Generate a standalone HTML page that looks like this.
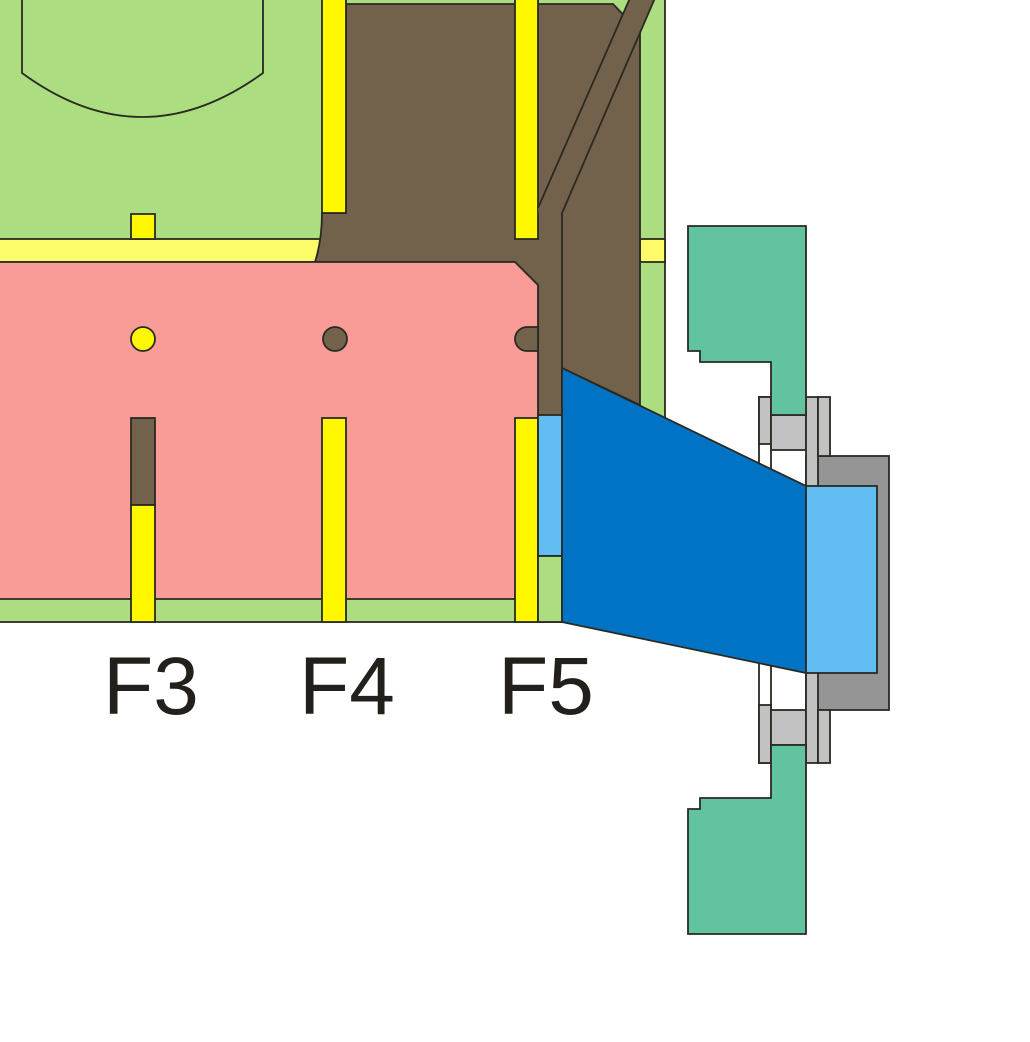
<!DOCTYPE html>
<html><head><style>html,body{margin:0;padding:0;background:#fff}svg{display:block}</style></head>
<body>
<svg width="1030" height="1042" viewBox="0 0 1030 1042" xmlns="http://www.w3.org/2000/svg" stroke="#2a2a22" stroke-width="1.8">
<rect x="-2" y="-2" width="667" height="624" fill="#acdd80"/>
<path d="M22,-2 V73 Q142,161 263,73 V-2" fill="none"/>
<rect x="-2" y="239" width="322" height="23" fill="#fdfb6a"/>
<rect x="640" y="239" width="25" height="23" fill="#fdfb6a"/>
<rect x="131" y="214" width="24" height="25" fill="#fff800"/>
<path d="M346,4 H613 L640,32 V405 L562,368 V556 H538 V285 L515,262 H315 Q322,240 322,213 H346 Z" fill="#72624c"/>
<rect x="322" y="-2" width="24" height="215" fill="#fff800"/>
<rect x="515" y="-2" width="23" height="241" fill="#fff800"/>
<path d="M538,208 L630,-2 L655,-2 L562,213 V368" fill="#72624c"/>
<path d="M-2,262 H515 L538,285 V599 H-2 Z" fill="#f99c97"/>
<circle cx="143" cy="339" r="12" fill="#fff800"/>
<circle cx="335" cy="339" r="12" fill="#72624c"/>
<path d="M538,327 H527 A12,12 0 0 0 527,351 H538 Z" fill="#72624c"/>
<rect x="131" y="418" width="24" height="87" fill="#72624c"/>
<rect x="131" y="505" width="24" height="117" fill="#fff800"/>
<rect x="322" y="418" width="24" height="204" fill="#fff800"/>
<rect x="515" y="418" width="23" height="204" fill="#fff800"/>
<rect x="538" y="415" width="24" height="141" fill="#62bef2"/>
<rect x="538" y="556" width="24" height="66" fill="#acdd80"/>
<rect x="806" y="456" width="83" height="254" fill="#959595"/>
<rect x="759" y="397" width="12" height="366" fill="#fff"/>
<rect x="759" y="397" width="12" height="47" fill="#c2c2c2"/>
<rect x="759" y="705" width="12" height="58" fill="#c2c2c2"/>
<rect x="771" y="415" width="35" height="35" fill="#c2c2c2"/>
<rect x="771" y="710" width="35" height="35" fill="#c2c2c2"/>
<rect x="806" y="397" width="12" height="366" fill="#c2c2c2"/>
<rect x="818" y="397" width="12" height="59" fill="#c2c2c2"/>
<rect x="818" y="710" width="12" height="53" fill="#c2c2c2"/>
<path d="M688,226 H806 V415 H771 V362 H700 V351 H688 Z" fill="#62c3a0"/>
<path d="M688,934 H806 V745 H771 V798 H700 V809 H688 Z" fill="#62c3a0"/>
<path d="M562,368 L806,486 V673 L562,622 Z" fill="#0073c5"/>
<rect x="806" y="486" width="71" height="187" fill="#62bef2"/>
<g font-family="Liberation Sans, sans-serif" font-size="82" fill="#231f1a" stroke="none" text-anchor="middle">
<text x="151" y="714">F3</text>
<text x="347" y="714">F4</text>
<text x="546" y="714">F5</text>
</g>
</svg>
</body></html>
